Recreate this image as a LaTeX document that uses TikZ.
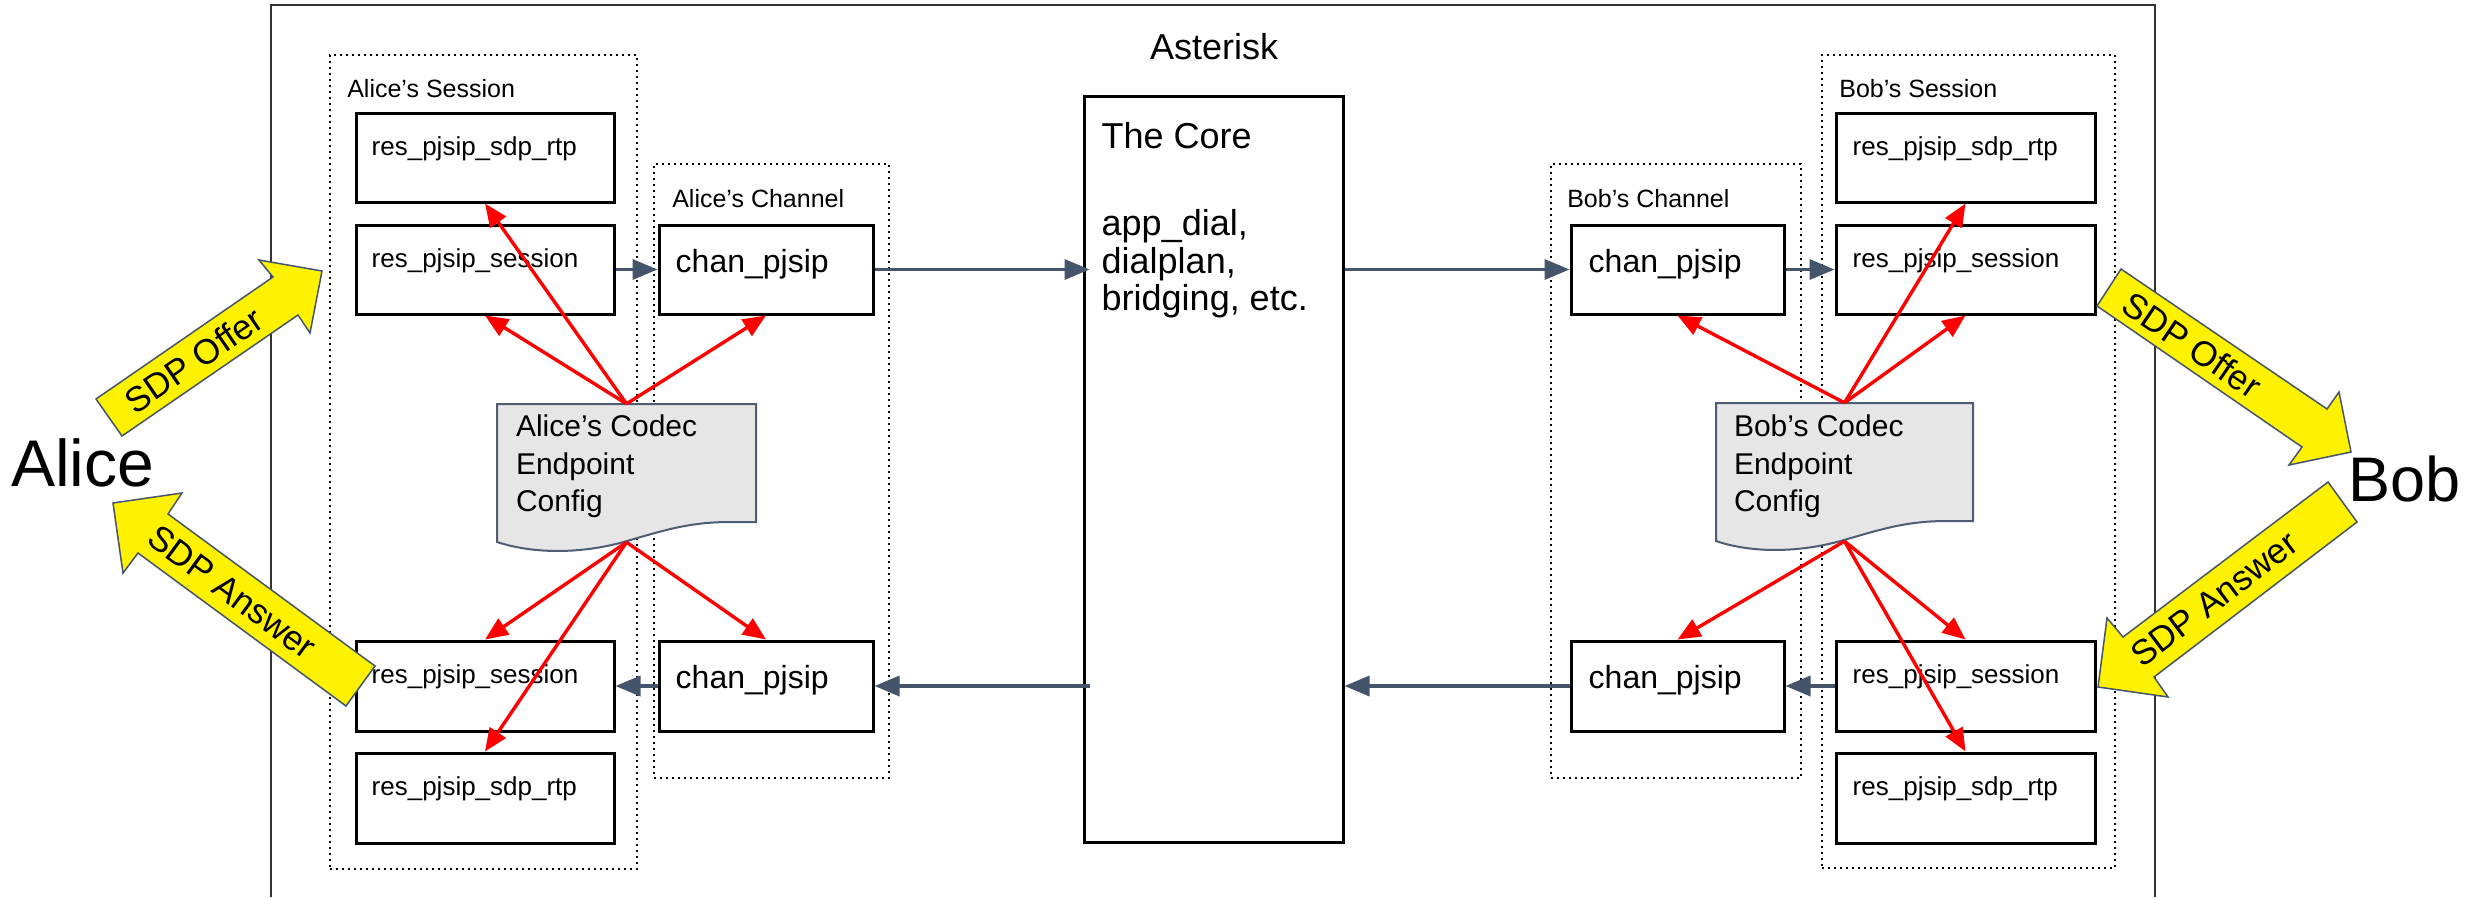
\documentclass[tikz,border=0pt]{standalone}
\usepackage{fontspec}
\setmainfont{Liberation Sans}
\usetikzlibrary{arrows.meta,fit}
\definecolor{slate}{HTML}{44546A}
\definecolor{docfill}{HTML}{E6E6E6}
\definecolor{docline}{HTML}{4E5D73}
\definecolor{framegray}{HTML}{333333}
\begin{document}
\begin{tikzpicture}[x=1pt,y=-1pt,
  modbox/.style={draw=black, line width=3pt, inner sep=0pt},
  grpbox/.style={draw=black, line width=1.8pt, dash pattern=on 1.8pt off 4.2pt, inner sep=0pt},
  grplabel/.style={font=\fontsize{25}{30}\selectfont, inner sep=0pt, anchor=base west},
  restext/.style={font=\fontsize{26}{31}\selectfont, inner sep=0pt, anchor=base west},
  chantext/.style={font=\fontsize{32}{38}\selectfont, inner sep=0pt, anchor=base west},
  bigtext/.style={font=\fontsize{36}{37.5}\selectfont, inner sep=0pt, anchor=base west},
  doctext/.style={font=\fontsize{30}{37.5}\selectfont, inner sep=0pt, anchor=base west},
  persontext/.style={inner sep=0pt, anchor=base west},
  docshape/.style={fill=docfill, draw=docline, line width=2pt},
  bluearrow/.style={draw=slate, line width=3.5pt, -{Triangle[length=25pt,width=20pt]}},
  redarrow/.style={draw=red, line width=3.4pt, -{Triangle[length=23pt,width=19pt]}},
  sdpshape/.style={fill=yellow, draw=slate, line width=1.5pt, line join=miter},
  sdptext/.style={font=\fontsize{35}{40}\selectfont, inner sep=0pt}
]
\useasboundingbox (0,0) rectangle (2491,897);
\fill[white] (0,0) rectangle (2491,897);

% Asterisk frame
\draw[framegray, line width=2pt] (271,897) -- (271,5) -- (2155,5) -- (2155,897);
\node[bigtext, anchor=base] (asterisk) at (1214,59) {Asterisk};

% group boxes
\node[grpbox, fit={(330,55) (637,869)}] (asess) {};
\node[grpbox, fit={(654,164) (889,778)}] (achan) {};
\node[grpbox, fit={(1551,164) (1801,778)}] (bchan) {};
\node[grpbox, fit={(1822,55) (2115,868)}] (bsess) {};
\node[grplabel] (asesslbl) at ([shift={(18,43)}]asess.north west) {Alice’s Session};
\node[grplabel] (achanlbl) at ([shift={(19,44)}]achan.north west) {Alice’s Channel};
\node[grplabel] (bchanlbl) at ([shift={(17,44)}]bchan.north west) {Bob’s Channel};
\node[grplabel] (bsesslbl) at ([shift={(18,43)}]bsess.north west) {Bob’s Session};

% core
\node[modbox, fit={(1084,96) (1343,842)}] (core) {};
\node[bigtext] (coretxt) at ([shift={(19,54)}]core.north west)
  {\begin{tabular}[t]{@{}l@{}}The Core\\[49.5pt] app\_dial,\\ dialplan,\\ bridging, etc.\end{tabular}};

% Alice modules
\node[modbox, fit={(356,113) (614,202)}] (as1) {};
\node[modbox, fit={(356,225) (614,314)}] (as2) {};
\node[modbox, fit={(659,225) (873,314)}] (ac1) {};
\node[modbox, fit={(356,641) (614,731)}] (as3) {};
\node[modbox, fit={(356,753) (614,843)}] (as4) {};
\node[modbox, fit={(659,641) (873,731)}] (ac2) {};
\node[restext] (as1t) at ([shift={(17,44)}]as1.north west) {res\_pjsip\_sdp\_rtp};
\node[restext] (as2t) at ([shift={(17,44)}]as2.north west) {res\_pjsip\_session};
\node[chantext] (ac1t) at ([shift={(18,49)}]ac1.north west) {chan\_pjsip};
\node[restext] (as3t) at ([shift={(17,44)}]as3.north west) {res\_pjsip\_session};
\node[restext] (as4t) at ([shift={(17,44)}]as4.north west) {res\_pjsip\_sdp\_rtp};
\node[chantext] (ac2t) at ([shift={(18,49)}]ac2.north west) {chan\_pjsip};

% Bob modules
\node[modbox, fit={(1836,113) (2095,202)}] (bs1) {};
\node[modbox, fit={(1836,225) (2095,314)}] (bs2) {};
\node[modbox, fit={(1571,225) (1784,314)}] (bc1) {};
\node[modbox, fit={(1571,641) (1784,731)}] (bc2) {};
\node[modbox, fit={(1836,641) (2095,731)}] (bs3) {};
\node[modbox, fit={(1836,753) (2095,843)}] (bs4) {};
\node[restext] (bs1t) at ([shift={(18,44)}]bs1.north west) {res\_pjsip\_sdp\_rtp};
\node[restext] (bs2t) at ([shift={(18,44)}]bs2.north west) {res\_pjsip\_session};
\node[chantext] (bc1t) at ([shift={(19,49)}]bc1.north west) {chan\_pjsip};
\node[chantext] (bc2t) at ([shift={(19,49)}]bc2.north west) {chan\_pjsip};
\node[restext] (bs3t) at ([shift={(18,44)}]bs3.north west) {res\_pjsip\_session};
\node[restext] (bs4t) at ([shift={(18,44)}]bs4.north west) {res\_pjsip\_sdp\_rtp};

% blue flow arrows
\draw[bluearrow] (as2.east) -- (ac1.west);
\draw[bluearrow] (ac1.east) -- ([xshift=7]core.west |- ac1.east);
\draw[bluearrow] (core.east |- bc1.west) -- (bc1.west);
\draw[bluearrow] (bc1.east) -- (bs2.west);
\draw[bluearrow] (bs3.west) -- (bc2.east);
\draw[bluearrow] (bc2.west) -- (core.east |- bc2.west);
\draw[bluearrow] ([xshift=7]core.west |- ac2.east) -- (ac2.east);
\draw[bluearrow] (ac2.west) -- (as3.east);

% codec documents
\draw[docshape] (497,404) -- (756,404) -- (756,522) -- (730,522)
  .. controls (690,522) and (665,530) .. (627,541)
  .. controls (590,552) and (540,556) .. (497,542) -- cycle;
\node[fit={(497,404) (756,542)}, inner sep=0pt] (adoc) {};
\node[doctext] (adoct) at ([shift={(19,33)}]adoc.north west)
  {\begin{tabular}[t]{@{}l@{}}Alice’s Codec\\ Endpoint\\ Config\end{tabular}};

\draw[docshape] (1716,403) -- (1973,403) -- (1973,521) -- (1947,521)
  .. controls (1907,521) and (1882,529) .. (1844,540)
  .. controls (1807,551) and (1757,555) .. (1716,541) -- cycle;
\node[fit={(1716,403) (1973,541)}, inner sep=0pt] (bdoc) {};
\node[doctext] (bdoct) at ([shift={(18,34)}]bdoc.north west)
  {\begin{tabular}[t]{@{}l@{}}Bob’s Codec\\ Endpoint\\ Config\end{tabular}};

% red config arrows
\draw[redarrow] (adoc.north) -- (as1.south);
\draw[redarrow] (adoc.north) -- (as2.south);
\draw[redarrow] (adoc.north) -- (ac1.south);
\draw[redarrow] (adoc.south) -- (as3.north);
\draw[redarrow] (adoc.south) -- (ac2.north);
\draw[redarrow] (adoc.south) -- (as4.north);
\draw[redarrow] (bdoc.north) -- (bc1.south);
\draw[redarrow] (bdoc.north) -- (bs2.south);
\draw[redarrow] (bdoc.north) -- (bs1.south);
\draw[redarrow] (bdoc.south) -- (bc2.north);
\draw[redarrow] (bdoc.south) -- (bs3.north);
\draw[redarrow] (bdoc.south) -- (bs4.north);

% SDP arrows
\draw[sdpshape] (96,399) -- (273,277) -- (259,260) -- (322,271) -- (310,333) -- (298,315) -- (122,436) -- cycle;
\node[sdptext, rotate=34.4] (aoffer) at (194,360) {SDP Offer};
\draw[sdpshape] (113,503) -- (182,493) -- (168,514) -- (375,666) -- (346,706) -- (138,553) -- (123,573) -- cycle;
\node[sdptext, rotate=-36.5] (aanswer) at (232,592) {SDP Answer};
\draw[sdpshape] (2121,269) -- (2327,409) -- (2339,392) -- (2351,452) -- (2289,465) -- (2302,447) -- (2097,306) -- cycle;
\node[sdptext, rotate=-34.2] (boffer) at (2192,345) {SDP Offer};
\draw[sdpshape] (2328,482) -- (2357,522) -- (2154,677) -- (2168,697) -- (2098,687) -- (2107,618) -- (2123,637) -- cycle;
\node[sdptext, rotate=37.1] (banswer) at (2214,599) {SDP Answer};

% endpoints
\node[persontext, font=\fontsize{66}{70}\selectfont] (alice) at (11,486) {Alice};
\node[persontext, font=\fontsize{63}{70}\selectfont] (bob) at (2348,501) {Bob};
\end{tikzpicture}
\end{document}
